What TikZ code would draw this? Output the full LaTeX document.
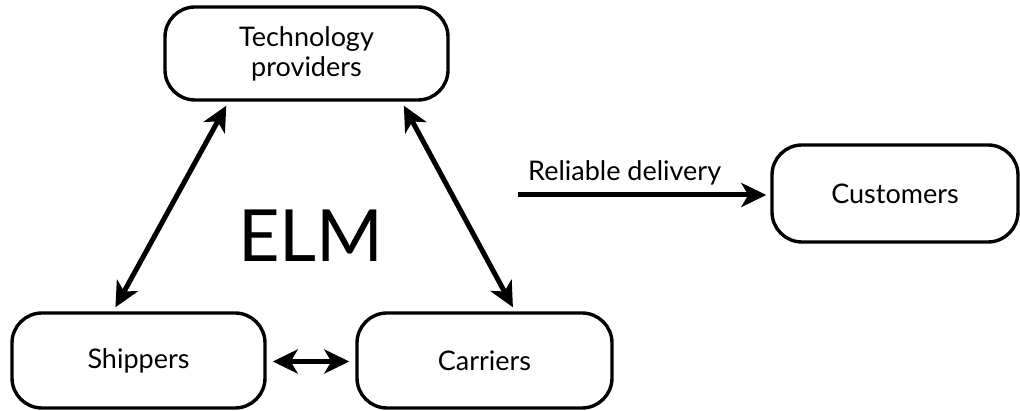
\documentclass[tikz,border=0pt]{standalone}
\usepackage{fontspec}
\setmainfont{Lato}
\usetikzlibrary{arrows.meta,calc}
\begin{document}
\begin{tikzpicture}[x=1pt,y=1pt,
  party/.style={draw=black, line width=3.4pt, rounded corners=30pt, align=center,
    font=\fontsize{27}{30}\selectfont, inner sep=0pt},
  link/.style={line width=5pt, {Stealth[length=25pt,width=24pt,inset=7pt]}-{Stealth[length=25pt,width=24pt,inset=7pt]}},
  flow/.style={line width=5pt, -{Stealth[length=25pt,width=24pt,inset=7pt]}}
]
\useasboundingbox (0,0) rectangle (1020,411);
\node[party, minimum width=283pt, minimum height=93pt] (tech) at (306.5,357.5) {Technology\\providers};
\node[party, minimum width=246pt, minimum height=97pt] (cust) at (895,217.5) {Customers};
\node[party, minimum width=253pt, minimum height=95pt] (ship) at (138.5,50.5) {Shippers};
\node[party, minimum width=255pt, minimum height=95pt] (carr) at (484.5,50.5) {Carriers};
\node[font=\fontsize{72}{76}\selectfont] (elm) at (311,175) {ELM};

\draw[link] ($(ship.north west)!0.41!(ship.north east)+(0,4)$) -- ($(tech.south west)!0.22!(tech.south east)+(0,-4)$);
\draw[link] ($(tech.south west)!0.84!(tech.south east)+(0,-4)$) -- ($(carr.north west)!0.61!(carr.north east)+(0,4)$);
\draw[link] ($(ship.east)+(6,-1)$) -- ($(carr.west)+(-6,-1)$);

\coordinate (src) at (518,216);
\draw[flow] (src) -- ($(cust.west)+(-4,-1.5)$);
\node[font=\fontsize{27}{30}\selectfont, anchor=base west, inner sep=0pt] (rel) at (528,230) {Reliable delivery};
\end{tikzpicture}
\end{document}
